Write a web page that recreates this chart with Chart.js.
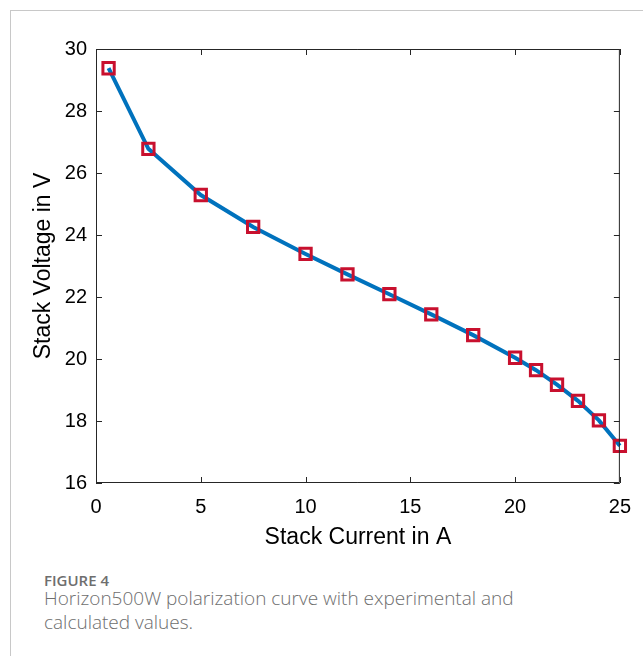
<!DOCTYPE html>
<html>
<head>
<meta charset="utf-8">
<script src="https://cdn.jsdelivr.net/npm/chart.js@4/dist/chart.umd.min.js"></script>
<style>
  html, body { margin: 0; padding: 0; background: #fff; }
  body { width: 643px; height: 656px; position: relative; overflow: hidden; }
  .frame { position: absolute; left: 10px; top: 10px; width: 700px; height: 700px;
           border-left: 1px solid #c8c8c8; border-top: 1px solid #c8c8c8; }
  #wrap { position: absolute; left: 0; top: 0; width: 643px; height: 560px; }
  .cap { position: absolute; left: 44px; top: 574px; font-family: "Open Sans", sans-serif; color: #6e6e6e; }
  .cap .fig { font-size: 15px; line-height: 13px; font-weight: 600; margin-bottom: -1px; }
  .cap .txt { font-size: 19px; line-height: 24px; font-weight: 300; }
</style>
</head>
<body>
<div class="frame"></div>
<div id="wrap"><canvas id="polChart"></canvas></div>
<div class="cap">
  <div class="fig">FIGURE 4</div>
  <div class="txt">Horizon500W polarization curve with experimental and<br>calculated values.</div>
</div>
<script>
const current = [0.6, 2.5, 5, 7.5, 10, 12, 14, 16, 18, 20, 21, 22, 23, 24, 25];
const voltage = [29.38, 26.78, 25.29, 24.26, 23.39, 22.73, 22.09, 21.44, 20.77, 20.04, 19.64, 19.17, 18.65, 18.02, 17.2];
const xTicks = [0, 5, 10, 15, 20, 25];
const yTicks = [16, 18, 20, 22, 24, 26, 28, 30];

const points = current.map((c, i) => ({ x: c, y: voltage[i] }));

// MATLAB style box with inward ticks on all four sides
const boxTicks = {
    id: 'boxTicks',
    afterDatasetsDraw(chart) {
        const { ctx, chartArea: a, scales } = chart;
        const len = 6;
        ctx.save();
        ctx.strokeStyle = '#262626';
        ctx.lineWidth = 1;
        ctx.beginPath();
        ctx.rect(a.left + 0.5, a.top + 0.5, a.right - a.left - 1, a.bottom - a.top - 1);
        xTicks.forEach(v => {
            const px = Math.round(scales.x.getPixelForValue(v)) + 0.5;
            ctx.moveTo(px, a.bottom); ctx.lineTo(px, a.bottom - len);
            ctx.moveTo(px, a.top); ctx.lineTo(px, a.top + len);
        });
        yTicks.forEach(v => {
            const py = Math.round(scales.y.getPixelForValue(v)) + 0.5;
            ctx.moveTo(a.left, py); ctx.lineTo(a.left + len, py);
            ctx.moveTo(a.right, py); ctx.lineTo(a.right - len, py);
        });
        ctx.stroke();
        ctx.restore();
    }
};

const font = { family: 'Liberation Sans, Arial, sans-serif', size: 20 };

new Chart(document.getElementById('polChart'), {
    type: 'line',
    data: {
        datasets: [{
            data: points,
            borderColor: '#0072bd',
            borderWidth: 4,
            tension: 0,
            pointStyle: 'rect',
            pointRadius: 8,
            pointBorderWidth: 3,
            pointBorderColor: '#c8102e',
            pointBackgroundColor: 'rgba(0,0,0,0)',
            clip: false
        }]
    },
    options: {
        responsive: true,
        maintainAspectRatio: false,
        animation: false,
        layout: { padding: { top: 49, right: 23, left: 0, bottom: 0 } },
        plugins: { legend: { display: false }, tooltip: { enabled: false } },
        scales: {
            x: {
                type: 'linear', min: 0, max: 25,
                afterBuildTicks: s => { s.ticks = xTicks.map(v => ({ value: v })); },
                afterFit: s => { s.height = 77; },
                grid: { display: false, drawTicks: false },
                border: { display: false },
                ticks: { color: '#000', font, padding: 12, maxRotation: 0 },
                title: { display: true, text: 'Stack Current in A', color: '#000',
                         font: { family: font.family, size: 23 }, padding: { top: 0, bottom: 9 } }
            },
            y: {
                type: 'linear', min: 16, max: 30,
                afterBuildTicks: s => { s.ticks = yTicks.map(v => ({ value: v })); },
                afterFit: s => { s.width = 96; },
                grid: { display: false, drawTicks: false },
                border: { display: false },
                ticks: { color: '#000', font, padding: 9 },
                title: { display: true, text: 'Stack Voltage in V', color: '#000',
                         font: { family: font.family, size: 23 }, padding: { top: 30, bottom: 0 } }
            }
        }
    },
    plugins: [boxTicks]
});
</script>
</body>
</html>
